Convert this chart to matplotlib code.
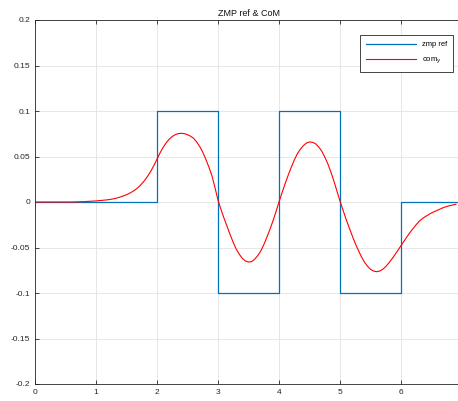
import matplotlib.pyplot as plt
import numpy as np

plt.rcParams['font.family'] = ['Liberation Sans', 'DejaVu Sans']

# zmp reference (step signal)
zmp_t = [0, 2, 2, 3, 3, 4, 4, 5, 5, 6, 6, 7]
zmp_y = [0, 0, 0.1, 0.1, -0.1, -0.1, 0.1, 0.1, -0.1, -0.1, 0, 0]

# CoM y (0.1 s steps at the ends, 0.05 s in the middle)
com_t = np.round(np.concatenate([np.arange(0, 15) * 0.1,
                                 np.arange(30, 130) * 0.05,
                                 np.arange(65, 70) * 0.1]), 2)
com_y = [0, 0, 0, 0, 0, 0, 0, 0.0002, 0.0004, 0.0008,
         0.0012, 0.0018, 0.0025, 0.0036, 0.0055,
         # 1.5 .. 1.95
         0.0080, 0.0096, 0.0115, 0.0138, 0.0165, 0.0200, 0.0240, 0.0287, 0.0340, 0.0403,
         # 2.0 .. 2.45
         0.0470, 0.0540, 0.0600, 0.0650, 0.0690, 0.0720, 0.0740, 0.0752, 0.0755, 0.0751,
         # 2.5 .. 2.95
         0.0740, 0.0723, 0.0700, 0.0660, 0.0610, 0.0548, 0.0470, 0.0385, 0.0290, 0.0160,
         # 3.0 .. 3.45
         0.0020, -0.0085, -0.018, -0.027, -0.036, -0.0445, -0.052, -0.0575, -0.062, -0.0648,
         # 3.5 .. 3.95
         -0.066, -0.0655, -0.063, -0.059, -0.054, -0.047, -0.039, -0.0303, -0.021, -0.0107,
         # 4.0 .. 4.45
         0.000, 0.0102, 0.020, 0.0293, 0.038, 0.046, 0.053, 0.058, 0.062, 0.0648,
         # 4.5 .. 4.95
         0.066, 0.0656, 0.064, 0.0605, 0.056, 0.0495, 0.042, 0.033, 0.023, 0.012,
         # 5.0 .. 5.45
         0.001, -0.009, -0.019, -0.028, -0.037, -0.0455, -0.053, -0.060, -0.066, -0.0705,
         # 5.5 .. 5.95
         -0.074, -0.0759, -0.0766, -0.0759, -0.074, -0.071, -0.067, -0.0627, -0.058, -0.053,
         # 6.0 .. 6.45
         -0.048, -0.043, -0.038, -0.0333, -0.029, -0.0248, -0.021, -0.0183, -0.016, -0.014,
         # 6.5 .. 6.9
         -0.012, -0.009, -0.006, -0.004, -0.0025]

fig = plt.figure(figsize=(4.58, 4.01), dpi=100)
ax = fig.add_axes([35/458, 17/401, 427/458, 364/401])

ax.plot(zmp_t, zmp_y, color='#0072BD', lw=0.9, label='zmp ref')
ax.plot(com_t, com_y, color='#FF0000', lw=0.8, label='com$_y$')

ax.set_xlim(0, 7)
ax.set_ylim(-0.2, 0.2)
ax.set_xticks(range(0, 7))
ax.set_yticks(np.round(np.arange(-0.2, 0.21, 0.05), 2))
ax.set_yticklabels(['-0.2', '-0.15', '-0.1', '-0.05', '0', '0.05', '0.1', '0.15', '0.2'])
ax.grid(True, color='#e3e3e3', lw=0.6)
ax.tick_params(direction='in', length=3, width=0.6, labelsize=6, colors='#262626',
               top=True, right=True)
for s in ax.spines.values():
    s.set_color('#262626')
    s.set_linewidth(0.6)

ax.set_title('ZMP ref & CoM', fontsize=6.5, color='#111111', pad=3)
leg = ax.legend(loc='upper right', fontsize=5.5, fancybox=False, edgecolor='#262626',
                framealpha=1, handlelength=6.5, borderpad=0.8, labelspacing=1.0)
leg.get_frame().set_linewidth(0.6)
leg.set_bbox_to_anchor((457/458, 1 - 31/401), transform=fig.transFigure)

fig.savefig('out.png', dpi=100)
